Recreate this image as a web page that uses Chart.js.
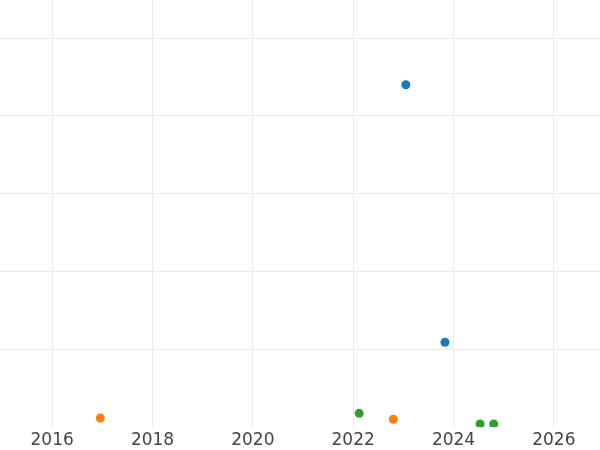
<!DOCTYPE html>
<html>
<head>
<meta charset="utf-8">
<script src="https://cdn.jsdelivr.net/npm/chart.js@4/dist/chart.umd.min.js"></script>
<style>
  html, body { margin: 0; padding: 0; background: #ffffff; }
  #wrap { width: 600px; height: 450px; position: relative; }
</style>
</head>
<body>
<div id="wrap"><canvas id="c" width="600" height="450"></canvas></div>
<script>
// Data
const seriesNames = ["Series A", "Series B", "Series C"];
const seriesAX = [2023.05, 2023.83];
const seriesAY = [44.0, 10.9];
const seriesBX = [2016.96, 2022.80];
const seriesBY = [1.16, 0.99];
const seriesCX = [2022.12, 2024.53, 2024.80];
const seriesCY = [1.76, 0.39, 0.39];
const xTickValues = [2016, 2018, 2020, 2022, 2024, 2026];
const yTickValues = [10, 20, 30, 40, 50];
const seriesColors = ["#1f77b4", "#ff7f0e", "#2ca02c"];

function toPoints(xs, ys) { return xs.map((x, i) => ({ x: x, y: ys[i] })); }

const ds = [
  toPoints(seriesAX, seriesAY),
  toPoints(seriesBX, seriesBY),
  toPoints(seriesCX, seriesCY)
].map((pts, i) => ({
  label: seriesNames[i],
  data: pts,
  backgroundColor: seriesColors[i],
  borderColor: seriesColors[i],
  borderWidth: 0,
  pointRadius: 4.5,
  pointHoverRadius: 4.5,
  clip: 0
}));

new Chart(document.getElementById("c"), {
  type: "scatter",
  data: { datasets: ds },
  options: {
    responsive: false,
    animation: false,
    devicePixelRatio: 1,
    layout: { padding: 0, autoPadding: false },
    plugins: { legend: { display: false }, tooltip: { enabled: false } },
    scales: {
      x: {
        type: "linear",
        min: 2014.96,
        max: 2026.92,
        afterBuildTicks: (axis) => { axis.ticks = xTickValues.map(v => ({ value: v })); },
        afterFit: (s) => { s.height = 23; },
        ticks: {
          color: "#444444",
          font: { family: "DejaVu Sans", size: 17 },
          padding: 3,
          maxRotation: 0,
          callback: (v) => String(v)
        },
        grid: { color: "#ebebeb", lineWidth: 1, drawTicks: false },
        border: { display: false }
      },
      y: {
        type: "linear",
        min: 0,
        max: 54.9,
        afterBuildTicks: (axis) => { axis.ticks = yTickValues.map(v => ({ value: v })); },
        afterFit: (s) => { s.width = 0; },
        ticks: { display: false },
        grid: { color: "#ebebeb", lineWidth: 1, drawTicks: false },
        border: { display: false }
      }
    }
  }
});
</script>
</body>
</html>
